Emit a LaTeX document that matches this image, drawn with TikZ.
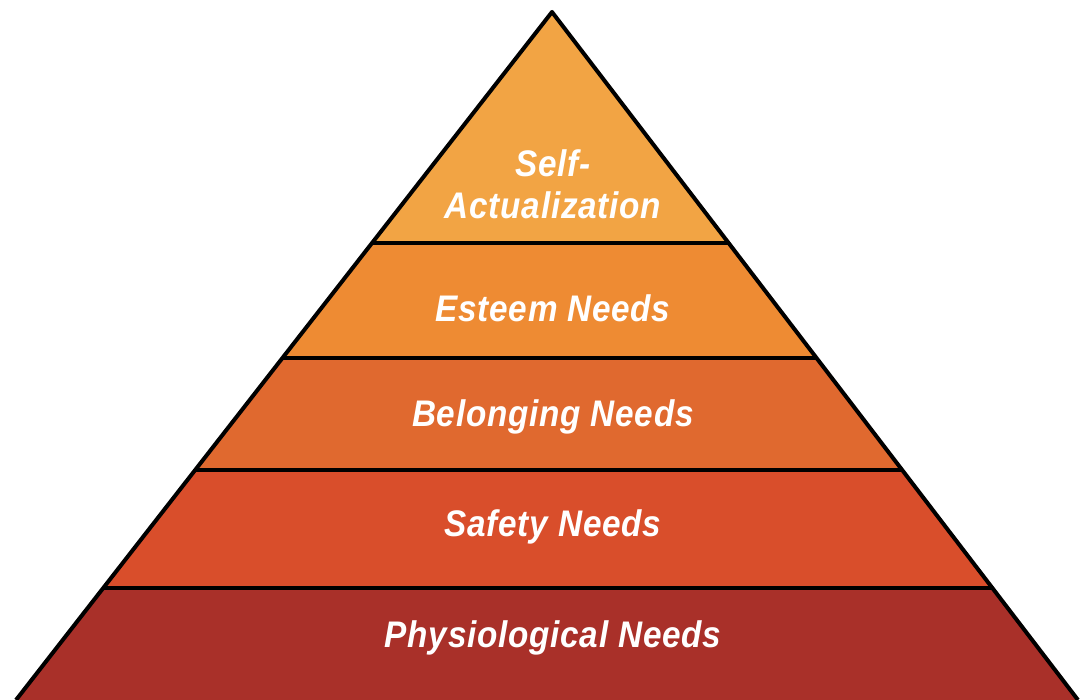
\documentclass[tikz,border=0pt]{standalone}
\usepackage{fontspec}
\setmainfont{Liberation Sans}
\newfontfamily\labfont[FakeStretch=0.9,LetterSpace=2]{Liberation Sans}
\usetikzlibrary{calc}
\definecolor{c1}{HTML}{F2A444}
\definecolor{c2}{HTML}{EE8B33}
\definecolor{c3}{HTML}{E0692F}
\definecolor{c4}{HTML}{D94E2B}
\definecolor{c5}{HTML}{A93029}
\tikzset{
  lab/.style={text=white, font=\labfont\bfseries\itshape\fontsize{37}{42}\selectfont, align=center, inner sep=0pt},
  edge/.style={line width=4pt, line join=round},
  divider/.style={line width=3.5pt}
}
\begin{document}
\begin{tikzpicture}[x=1pt,y=-1pt]
\useasboundingbox (0,0) rectangle (1080,700);
\coordinate (A) at (552,12);
\coordinate (BL) at (16,700);
\coordinate (BR) at (1078,700);
\foreach \n/\t in {1/0.3358,2/0.5029,3/0.6657,4/0.8372}{
  \coordinate (L\n) at ($(A)!\t!(BL)$);
  \coordinate (R\n) at ($(A)!\t!(BR)$);
}
\fill[c1] (A) -- (L1) -- (R1) -- cycle;
\fill[c2] (L1) -- (L2) -- (R2) -- (R1) -- cycle;
\fill[c3] (L2) -- (L3) -- (R3) -- (R2) -- cycle;
\fill[c4] (L3) -- (L4) -- (R4) -- (R3) -- cycle;
\fill[c5] (L4) -- (BL) -- (BR) -- (R4) -- cycle;
\foreach \n in {1,...,4}{ \draw[divider] (L\n) -- (R\n); }
\draw[edge] (BL) -- (A) -- (BR);
\node[lab] (n1) at (553,184) {Self-\\Actualization};
\node[lab] (n2) at (553,308) {Esteem Needs};
\node[lab] (n3) at (553,417) {Belonging Needs};
\node[lab] (n4) at (553,527) {Safety Needs};
\node[lab] (n5) at (553,638) {Physiological Needs};
\end{tikzpicture}
\end{document}
